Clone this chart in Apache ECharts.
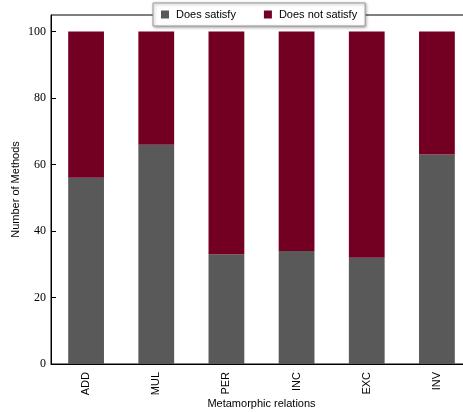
<!DOCTYPE html>
<html>
<head>
<meta charset="utf-8">
<script src="https://cdn.jsdelivr.net/npm/echarts@6/dist/echarts.min.js"></script>
<style>
  html, body { margin: 0; padding: 0; background: #fff; }
  #chart { width: 463px; height: 412px; }
</style>
</head>
<body>
<div id="chart"></div>
<script>
// Metamorphic relations and how many methods satisfy each one
const relations = ['ADD', 'MUL', 'PER', 'INC', 'EXC', 'INV'];
const satisfy = [56, 66, 33, 34, 32, 63];
const notSatisfy = [44, 34, 67, 66, 68, 37];
const yTicks = [0, 20, 40, 60, 80, 100];

const chart = echarts.init(document.getElementById('chart'), null, { renderer: 'canvas' });

const sansFont = 'Liberation Sans';
const serifFont = '"Liberation Serif", serif';

chart.setOption({
  animation: false,
  backgroundColor: '#fff',
  grid: {
    left: 51, top: 15, bottom: 48, width: 421,
    containLabel: false,
    outerBoundsMode: 'none',
    show: true, borderColor: '#000', borderWidth: 1, backgroundColor: 'transparent'
  },
  legend: {
    top: 3,
    left: 153,
    itemWidth: 8, itemHeight: 8, itemGap: 28,
    icon: 'rect',
    padding: [6, 8, 6, 8],
    backgroundColor: '#fff',
    borderColor: '#999', borderWidth: 1,
    shadowColor: 'rgba(0,0,0,0.35)', shadowBlur: 3, shadowOffsetX: 1, shadowOffsetY: 1,
    textStyle: { fontFamily: sansFont, fontSize: 11, color: '#000', padding: [0, 0, 0, 2] },
    data: ['Does satisfy', 'Does not satisfy']
  },
  xAxis: {
    type: 'category',
    data: relations,
    name: 'Metamorphic relations',
    nameLocation: 'middle',
    nameGap: 34,
    nameMoveOverlap: false,
    nameTextStyle: { fontFamily: sansFont, fontSize: 11, color: '#000' },
    axisLine: { lineStyle: { color: '#000', width: 1 } },
    axisTick: { show: true, inside: true, alignWithLabel: true, length: 6, lineStyle: { color: '#000' } },
    axisLabel: { rotate: 90, margin: 8, fontFamily: sansFont, fontSize: 11, color: '#000' },
    splitLine: { show: false }
  },
  yAxis: {
    type: 'value',
    min: 0, max: 105, interval: 20,
    name: 'Number of Methods',
    nameLocation: 'middle',
    nameGap: 30,
    nameMoveOverlap: false,
    nameRotate: 90,
    nameTextStyle: { fontFamily: sansFont, fontSize: 11, color: '#000' },
    axisLine: { show: true, lineStyle: { color: '#000', width: 1 } },
    axisTick: { show: true, inside: true, length: 5, customValues: yTicks, lineStyle: { color: '#000' } },
    axisLabel: { margin: 5, fontFamily: serifFont, fontSize: 12, color: '#000', customValues: yTicks },
    splitLine: { show: false }
  },
  series: [
    {
      name: 'Does satisfy',
      type: 'bar',
      stack: 'total',
      barWidth: '51%',
      itemStyle: { color: '#595959' },
      data: satisfy
    },
    {
      name: 'Does not satisfy',
      type: 'bar',
      stack: 'total',
      barWidth: '51%',
      itemStyle: { color: '#730022' },
      data: notSatisfy
    }
  ]
});
</script>
</body>
</html>
